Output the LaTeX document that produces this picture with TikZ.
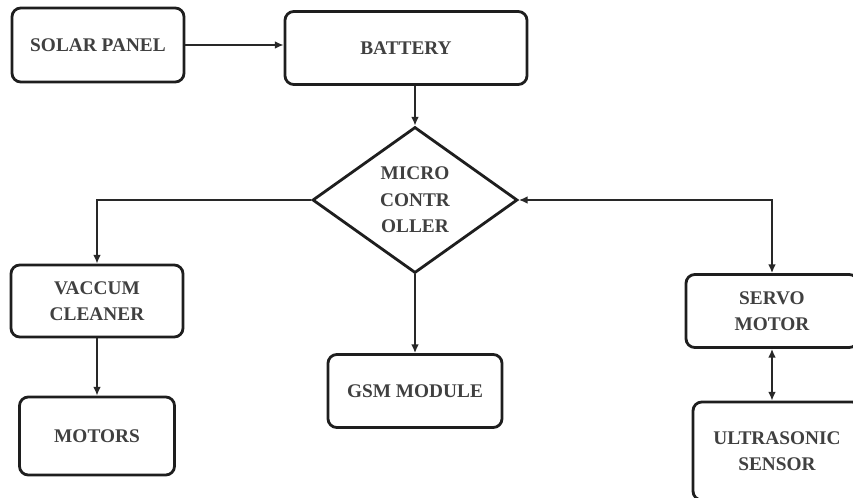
\documentclass[tikz,border=0pt]{standalone}
\usepackage{fontspec}
\setmainfont{Liberation Serif}
\usepackage{xcolor}
\usepackage{tikz}
\usetikzlibrary{shapes.geometric, arrows.meta, positioning, calc}
\definecolor{blockline}{RGB}{30,30,30}
\definecolor{wireline}{RGB}{40,40,40}
\tikzset{
  block/.style={
    rectangle, rounded corners=5pt, line width=1.6pt,
    draw=blockline, fill=white, align=center,
    font=\fontsize{11}{15}\selectfont\bfseries, text=black!75
  },
  decision/.style={
    diamond, line width=1.6pt, draw=blockline, fill=white, align=center,
    inner sep=0pt, font=\fontsize{11}{15}\selectfont\bfseries, text=black!75
  },
  arrow/.style={-{Latex[length=5pt,width=4.5pt]}, line width=1.4pt, color=wireline},
  twoway/.style={{Latex[length=5pt,width=4.5pt]}-{Latex[length=5pt,width=4.5pt]},
    line width=1.4pt, color=wireline}
}

\begin{document}
\begin{tikzpicture}
    \clip (0,0) rectangle (17.06,-9.96);
    \useasboundingbox (0,0) rectangle (17.06,-9.96);
    % blocks of the robot
    \node[block, minimum width=3.44cm, minimum height=1.48cm] (solar) at (1.96,-0.90) {SOLAR PANEL};
    \node[block, minimum width=4.84cm, minimum height=1.46cm] (battery) at (8.12,-0.96) {BATTERY};
    \node[decision, minimum width=4.1cm, minimum height=2.92cm] (micro) at (8.30,-4.00)
      {MICRO\\CONTR\\OLLER};
    \node[block, minimum width=3.44cm, minimum height=1.44cm] (vacuum) at (1.94,-6.02) {VACCUM\\CLEANER};
    \node[block, minimum width=3.10cm, minimum height=1.56cm] (motors) at (1.94,-8.72) {MOTORS};
    \node[block, minimum width=3.48cm, minimum height=1.46cm] (gsm) at (8.30,-7.82) {GSM MODULE};
    \node[block, minimum width=3.44cm, minimum height=1.46cm] (servo) at (15.44,-6.22) {SERVO\\MOTOR};
    \node[block, minimum width=3.36cm, minimum height=1.96cm] (ultra) at (15.54,-9.02) {ULTRASONIC\\SENSOR};

    \draw[arrow] (solar.east) -- (solar.east -| battery.west);
    \draw[arrow] (micro.north |- battery.south) -- (micro.north);
    \draw[arrow] (micro.west) -| (vacuum.north);
    \draw[arrow] (vacuum.south) -- (motors.north);
    \draw[arrow] (micro.south) -- (gsm.north);
    \draw[twoway] (micro.east) -| (servo.north);
    \draw[twoway] (servo.south) -- (servo.south |- ultra.north);
  \end{tikzpicture}
\end{document}
